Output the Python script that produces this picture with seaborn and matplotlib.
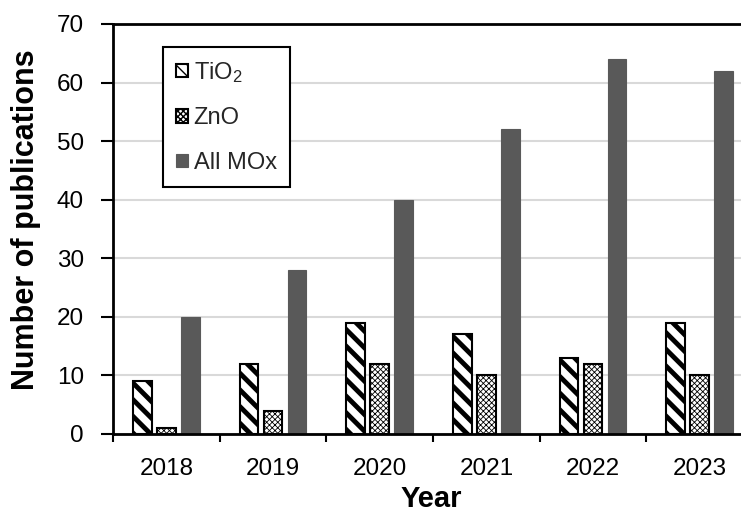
"""Publications per year on metal-oxide photocatalysts, grouped bars."""

import matplotlib
matplotlib.use("Agg")
import matplotlib.pyplot as plt
import matplotlib.patches as mpatches
from matplotlib.ticker import FixedLocator
import pandas as pd
import seaborn as sns

years = ["2018", "2019", "2020", "2021", "2022", "2023"]
series = ["TiO$_2$", "ZnO", "All MOx"]
tio2 = [9, 12, 19, 17, 13, 19]
zno = [1, 4, 12, 10, 12, 10]
all_mox = [20, 28, 40, 52, 64, 62]
y_ticks = [0, 10, 20, 30, 40, 50, 60, 70]

DARK = "#595959"
styles = {
    "TiO$_2$": dict(face="white", edge="black", hatch="\\\\", hatch_lw=3.5),
    "ZnO": dict(face="white", edge="black", hatch="xxxxxx", hatch_lw=0.6),
    "All MOx": dict(face=DARK, edge=DARK, hatch=None, hatch_lw=1.0),
}

df = pd.DataFrame({
    "Year": years * 3,
    "Oxide": [series[0]] * 6 + [series[1]] * 6 + [series[2]] * 6,
    "Count": tio2 + zno + all_mox,
})

sns.set_theme(style="white")
plt.rcParams["font.family"] = ["Liberation Sans", "DejaVu Sans"]
plt.rcParams["mathtext.fontset"] = "custom"
plt.rcParams["mathtext.rm"] = "Liberation Sans"
plt.rcParams["mathtext.it"] = "Liberation Sans"


def style_patch(p, st):
    p.set_facecolor(st["face"])
    p.set_edgecolor(st["edge"])
    p.set_linewidth(1.5 if st["hatch"] else 0.8)
    if st["hatch"]:
        p.set_hatch(st["hatch"])
        if hasattr(p, "set_hatch_linewidth"):
            p.set_hatch_linewidth(st["hatch_lw"])


fig = plt.figure(figsize=(7.41, 5.14), dpi=100)
ax = fig.add_axes([113 / 741, 80 / 514, 640 / 741, 410 / 514])

sns.barplot(data=df, x="Year", y="Count", hue="Oxide", hue_order=series,
            palette=[DARK, DARK, DARK], width=0.675, gap=0.22,
            errorbar=None, legend=False, ax=ax)

for name, cont in zip(series, ax.containers):
    for p in cont:
        style_patch(p, styles[name])

ax.set_xlim(-0.5, len(years) - 0.5)
ax.set_ylim(0, 70)
ax.set_yticks(y_ticks)
ax.yaxis.grid(True, color="#d9d9d9", linewidth=1.5)
ax.set_axisbelow(True)

for side in ["left", "bottom", "top"]:
    ax.spines[side].set_color("black")
    ax.spines[side].set_linewidth(2)
ax.spines["right"].set_visible(False)

ax.tick_params(axis="y", which="major", left=True, length=9, width=1.5,
               color="black", pad=12, labelsize=17.5, labelcolor="black")
ax.tick_params(axis="x", which="major", bottom=False, length=0, pad=17,
               labelsize=17.5, labelcolor="black")
ax.xaxis.set_minor_locator(FixedLocator([i - 0.5 for i in range(len(years) + 1)]))
ax.tick_params(axis="x", which="minor", bottom=True, length=6, width=1.5,
               color="black")

ax.set_xlabel("Year", fontsize=21, fontweight="bold", color="black")
ax.set_ylabel("Number of publications", fontsize=22, fontweight="bold", color="black")
ax.xaxis.set_label_coords(0.498, -0.124)
ax.yaxis.set_label_coords(-0.113, 0.522)

handles = []
for name in series:
    h = mpatches.Rectangle((0, 0), 1, 1)
    style_patch(h, styles[name])
    if name == "TiO$_2$":
        h.set_hatch("\\\\\\")
        if hasattr(h, "set_hatch_linewidth"):
            h.set_hatch_linewidth(2.5)
    handles.append(h)

leg = ax.legend(handles, series, loc="upper left", bbox_to_anchor=(50 / 640, 387 / 410),
                fontsize=17, frameon=True, fancybox=False, framealpha=1,
                edgecolor="black", handlelength=0.5, handleheight=0.5,
                handletextpad=0.25, labelspacing=0.95, borderpad=0.55,
                borderaxespad=0)
leg.get_frame().set_linewidth(1.5)

fig.savefig("out.png", dpi=100)
plt.close(fig)
